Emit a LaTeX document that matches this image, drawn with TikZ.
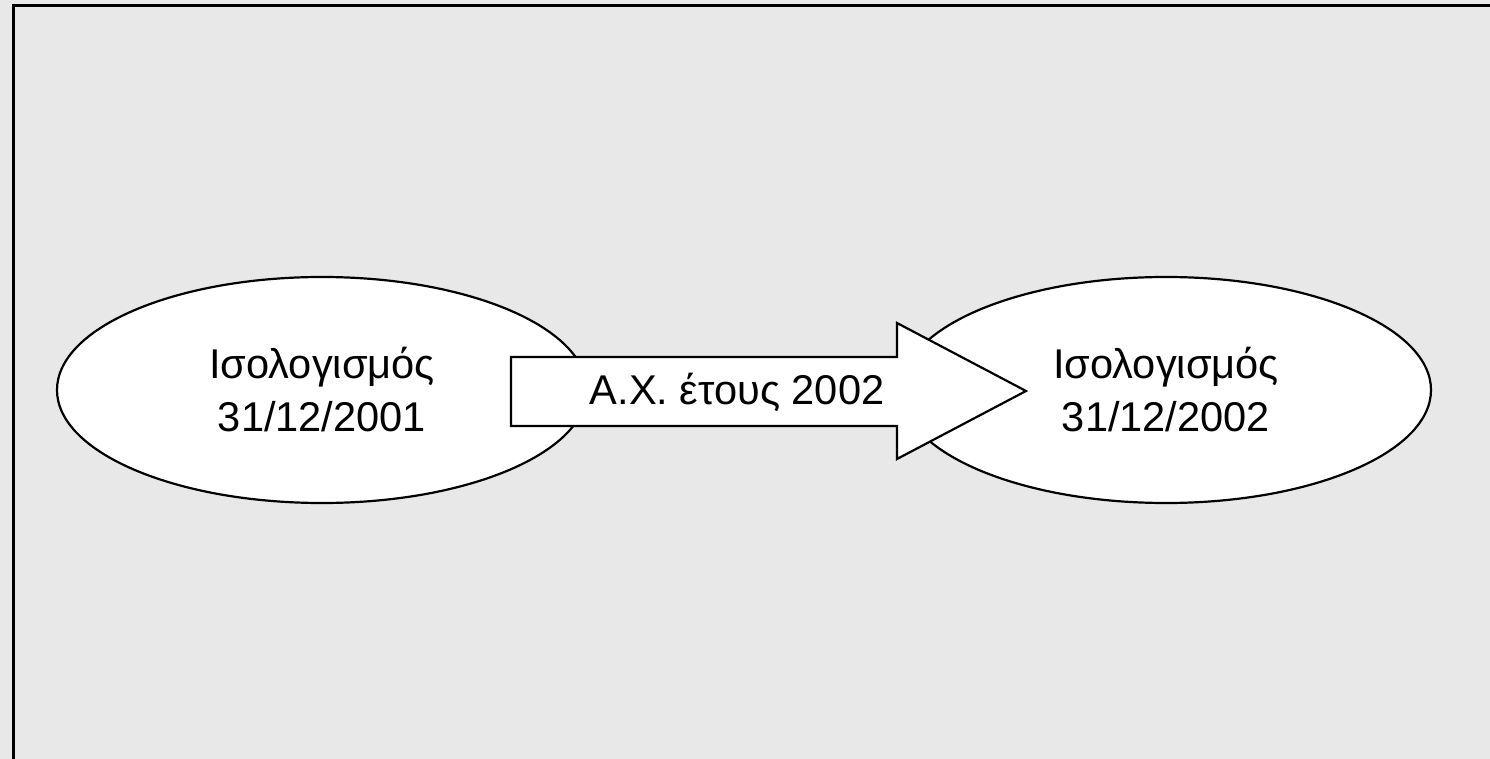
\documentclass[tikz,border=0pt]{standalone}
\usepackage{fontspec}
\setmainfont{Liberation Sans}
\usetikzlibrary{shapes.geometric}
\begin{document}
\begin{tikzpicture}[x=0.5pt,y=-0.5pt,
  ell/.style={ellipse,draw=black,fill=white,line width=1.1pt,minimum width=530*0.5pt,minimum height=226*0.5pt,inner sep=0pt},
  lbl/.style={align=center,font=\fontsize{20.8pt}{26.5pt}\selectfont,inner sep=0pt},
  arrowbody/.style={draw=black,fill=white,line width=1.1pt,line join=miter}]
\useasboundingbox (0,0) rectangle (1490,759);
\fill[fill={rgb,255:red,232;green,232;blue,232}] (0,0) rectangle (1490,759);
\draw[line width=1.5pt,black] (13,770) -- (13,6) -- (1500,6);
\node[ell] (e1) at (322,390) {};
\node[ell] (e2) at (1166,390) {};
\node[lbl] (t1) at (e1) {Ισολογισμός\\31/12/2001};
\node[lbl] (t2) at (e2) {Ισολογισμός\\31/12/2002};
\draw[arrowbody] (511,357) -- (897,357) -- (897,323) -- (1026,391) -- (897,459) -- (897,426) -- (511,426) -- cycle;
\node[lbl] (a) at (737,392) {Α.Χ. έτους 2002};
\end{tikzpicture}
\end{document}
